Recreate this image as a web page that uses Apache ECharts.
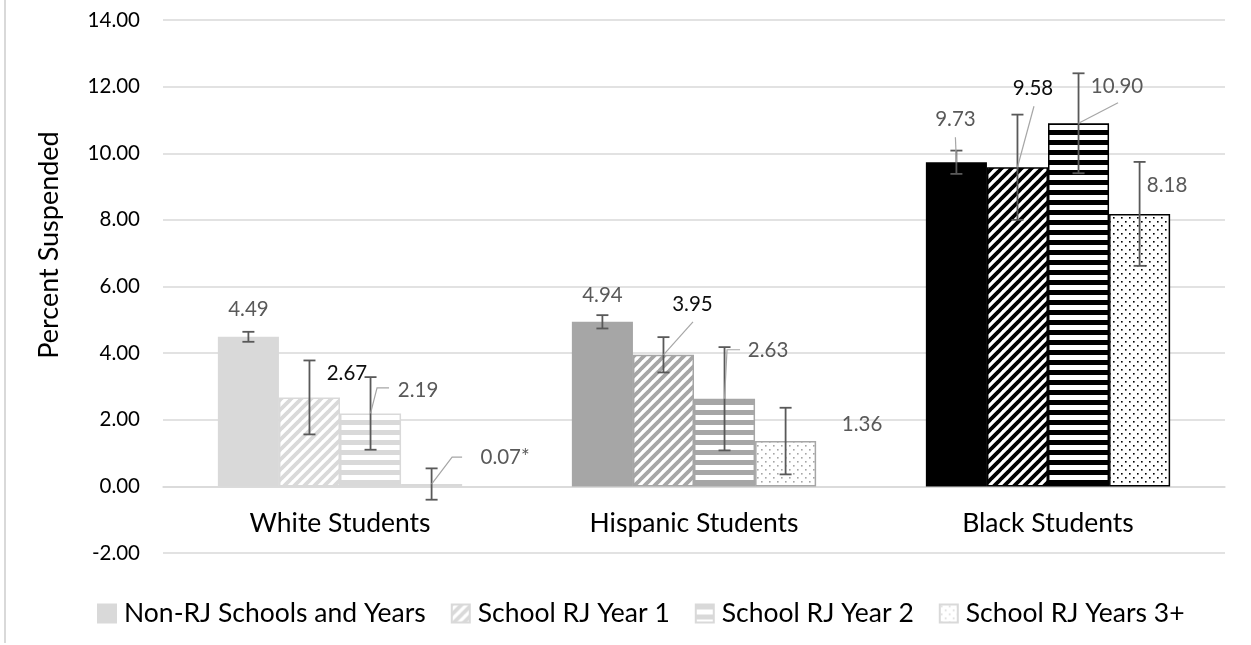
<!DOCTYPE html>
<html>
<head>
<meta charset="utf-8">
<script src="https://cdn.jsdelivr.net/npm/echarts@6/dist/echarts.min.js"></script>
<style>
  html, body { margin: 0; padding: 0; background: #ffffff; }
  #chart { width: 1251px; height: 645px; }
</style>
</head>
<body>
<div id="chart"></div>
<script>
// ---- data ----
const categories = ['White Students', 'Hispanic Students', 'Black Students'];
const seriesNames = ['Non-RJ Schools and Years', 'School RJ Year 1', 'School RJ Year 2', 'School RJ Years 3+'];

// percent suspended, per category
const nonRJ   = [4.49, 4.94, 9.73];
const rjYear1 = [2.67, 3.95, 9.58];
const rjYear2 = [2.19, 2.63, 10.90];
const rjYear3 = [0.07, 1.36, 8.18];

// half-width of each error bar, per category
const errNonRJ = [0.15, 0.20, 0.35];
const errYear1 = [1.11, 0.53, 1.58];
const errYear2 = [1.09, 1.55, 1.50];
const errYear3 = [0.47, 1.00, 1.56];

// significance marks appended to value labels
const notesNonRJ = ['', '', ''];
const notesYear1 = ['', '', ''];
const notesYear2 = ['', '', ''];
const notesYear3 = ['*', '', ''];

const yMin = -2, yMax = 14, yStep = 2;

// ---- styling ----
const FONT = 'Lato, "Open Sans", sans-serif';
const CAT_GAP = 0.31;                       // share of each category band left empty
const groupColors = ['#d9d9d9', '#a6a6a6', '#000000'];
const patternKinds = ['solid', 'diagonal', 'horizontal', 'dots'];

// label offset from the top-centre of its bar, with optional leader bend points
const labelPlacement = [
  [ { d: [0, -27] },                       { d: [0, -26] },                                   { d: [-1, -43], lead: [[-1, -25]] } ],
  [ { d: [37.5, -24.5], dark: true },       { d: [29, -50], dark: true, lead: [[29.5, -33]] }, { d: [15.5, -79], dark: true, lead: [[16.5, -61]] } ],
  [ { d: [47.5, -23.5], lead: [[6.5, -25.5], [18.5, -25.5]] }, { d: [43.5, -48], lead: [[2.5, -49], [15.5, -49]] }, { d: [38.5, -36.5], lead: [[39.5, -20.5]] } ],
  [ { d: [73.5, -27], lead: [[20.5, -27], [30.5, -27]] }, { d: [76.5, -17] },               { d: [27.5, -28] } ]
];

function makeFill(kind, color) {
  if (kind === 'solid') return color;
  const c = document.createElement('canvas');
  const ctx = c.getContext('2d');
  if (kind === 'diagonal') {
    const n = 10;
    c.width = n; c.height = n;
    ctx.fillStyle = '#ffffff'; ctx.fillRect(0, 0, n, n);
    ctx.strokeStyle = color; ctx.lineWidth = 3.8;
    ctx.beginPath();
    for (let k = -1; k <= 1; k++) {
      ctx.moveTo(k * n - 1, n + 1);
      ctx.lineTo(k * n + n + 1, -1);
    }
    ctx.stroke();
  } else if (kind === 'horizontal') {
    c.width = 10; c.height = 10;
    ctx.fillStyle = '#ffffff'; ctx.fillRect(0, 0, 10, 10);
    ctx.fillStyle = color; ctx.fillRect(0, 0, 10, 5);
  } else if (kind === 'dots') {
    c.width = 8; c.height = 8;
    ctx.fillStyle = '#ffffff'; ctx.fillRect(0, 0, 8, 8);
    ctx.fillStyle = color;
    ctx.fillRect(1, 1, 1.6, 1.6);
    ctx.fillRect(5, 5, 1.6, 1.6);
  }
  return { image: c, repeat: 'repeat' };
}

const values = [nonRJ, rjYear1, rjYear2, rjYear3];
const errors = [errNonRJ, errYear1, errYear2, errYear3];
const notes  = [notesNonRJ, notesYear1, notesYear2, notesYear3];

const barSeries = seriesNames.map((name, s) => ({
  name: name,
  type: 'bar',
  barGap: '0%',
  barCategoryGap: (CAT_GAP * 100) + '%',
  itemStyle: { color: makeFill(patternKinds[s], groupColors[0]), borderColor: groupColors[0], borderWidth: 1.5 },
  emphasis: { disabled: true },
  data: values[s].map((v, i) => ({
    value: v,
    itemStyle: { color: makeFill(patternKinds[s], groupColors[i]), borderColor: groupColors[i], borderWidth: 1.5 }
  }))
}));

// centre x of bar s inside a category, from the category axis band
function barCentre(api, cat, s, v) {
  const p = api.coord([cat, v]);
  const band = api.size([1, 0])[0];
  const w = band * (1 - CAT_GAP) / seriesNames.length;
  return [p[0] + (s - (seriesNames.length - 1) / 2) * w, p[1]];
}

const errorItems = [];
const labelItems = [];
values.forEach((arr, s) => arr.forEach((v, i) => {
  errorItems.push([i, v, s, errors[s][i]]);
  labelItems.push({ value: [i, v, s], text: v.toFixed(2) + notes[s][i] });
}));

const errorSeries = {
  type: 'custom',
  silent: true,
  z: 5,
  encode: { x: 0, y: 1 },
  data: errorItems,
  renderItem: function (params, api) {
    const cat = api.value(0), v = api.value(1), s = api.value(2), e = api.value(3);
    const hi = barCentre(api, cat, s, v + e);
    const lo = barCentre(api, cat, s, v - e);
    const x = hi[0], cap = 6;
    const st = { stroke: '#595959', lineWidth: 1.8 };
    return {
      type: 'group',
      children: [
        { type: 'line', shape: { x1: x, y1: hi[1], x2: x, y2: lo[1] }, style: st },
        { type: 'line', shape: { x1: x - cap, y1: hi[1], x2: x + cap, y2: hi[1] }, style: st },
        { type: 'line', shape: { x1: x - cap, y1: lo[1], x2: x + cap, y2: lo[1] }, style: st }
      ]
    };
  }
};

const labelSeries = {
  type: 'custom',
  silent: true,
  z: 6,
  encode: { x: 0, y: 1 },
  data: labelItems,
  renderItem: function (params, api) {
    const cat = api.value(0), v = api.value(1), s = api.value(2);
    const top = barCentre(api, cat, s, v);
    const pl = labelPlacement[s][cat];
    const children = [];
    if (pl.lead) {
      const pts = [top].concat(pl.lead.map(p => [top[0] + p[0], top[1] + p[1]]));
      children.push({ type: 'polyline', shape: { points: pts }, style: { stroke: '#a6a6a6', lineWidth: 1.2, fill: null } });
    }
    children.push({
      type: 'text',
      x: top[0] + pl.d[0],
      y: top[1] + pl.d[1],
      style: {
        text: labelItems[params.dataIndex].text,
        fill: pl.dark ? '#0d0d0d' : '#595959',
        fontSize: 20.5,
        fontFamily: FONT,
        align: 'center',
        verticalAlign: 'middle'
      }
    });
    return { type: 'group', children: children };
  }
};

const chart = echarts.init(document.getElementById('chart'), null, { renderer: 'canvas' });
chart.setOption({
  animation: false,
  backgroundColor: '#ffffff',
  textStyle: { fontFamily: FONT },
  graphic: [
    { type: 'rect', left: 4, top: 0, shape: { width: 2, height: 643 }, style: { fill: '#d9d9d9' }, silent: true }
  ],
  grid: { left: 163, right: 26, top: 20, bottom: 92, containLabel: false },
  legend: {
    data: seriesNames,
    left: 97,
    top: 600,
    padding: 0,
    icon: 'rect',
    itemWidth: 18,
    itemHeight: 18,
    itemGap: 25,
    textStyle: { fontSize: 26.5, color: '#000000', fontFamily: FONT, padding: [0, 0, 0, 3] },
    selectedMode: false
  },
  xAxis: {
    type: 'category',
    data: categories,
    axisLine: { onZero: true, lineStyle: { color: '#d9d9d9', width: 1.5 } },
    axisTick: { show: false },
    axisLabel: { fontSize: 26.5, color: '#000000', margin: -43, fontFamily: FONT },
    splitLine: { show: false }
  },
  yAxis: {
    type: 'value',
    min: yMin,
    max: yMax,
    interval: yStep,
    name: 'Percent Suspended',
    nameLocation: 'middle',
    nameGap: 100,
    nameRotate: 90,
    nameTextStyle: { fontSize: 27, color: '#000000', fontFamily: FONT, padding: [0, 0, 0, 83] },
    axisLine: { show: false },
    axisTick: { show: false },
    axisLabel: { fontSize: 20.5, color: '#000000', margin: 23, fontFamily: FONT, formatter: v => v.toFixed(2) },
    splitLine: { lineStyle: { color: '#d9d9d9', width: 1.5 } }
  },
  series: barSeries.concat([errorSeries, labelSeries])
});
</script>
</body>
</html>
